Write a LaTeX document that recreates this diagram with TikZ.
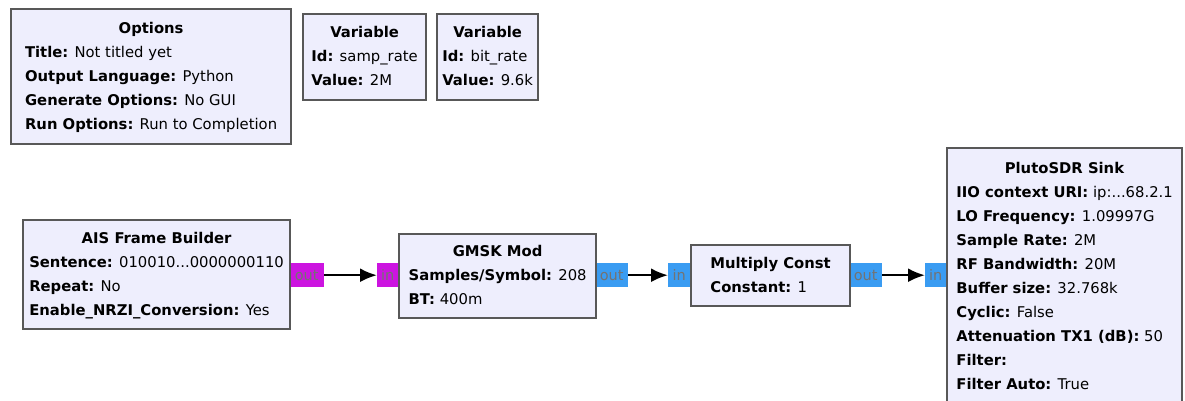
\documentclass[tikz,border=0pt]{standalone}
\usepackage{fontspec}
\setmainfont{DejaVu Sans}
\usetikzlibrary{arrows.meta}
\definecolor{blockfill}{HTML}{EEEEFD}
\definecolor{blockline}{HTML}{585858}
\definecolor{bytecol}{HTML}{CC14E0}
\definecolor{cpxcol}{HTML}{3A9CF2}

\begin{document}
\begin{tikzpicture}[x=1pt,y=-1pt,
  block/.style={draw=blockline,fill=blockfill,line width=2.2pt,anchor=north west,
    inner sep=0pt,font=\fontsize{14.8}{24}\selectfont},
  port/.style={anchor=north west,inner sep=0pt,minimum height=24pt,
    font=\fontsize{14.5}{14.5}\selectfont,text=black!55},
  bport/.style={port,fill=bytecol},
  cport/.style={port,fill=cpxcol},
  link/.style={line width=2.4pt,-{Latex[length=17pt,width=14pt]}}]
  \useasboundingbox (0,0) rectangle (1185,400);

  \node [block,minimum width=280pt,minimum height=135pt] (opt) at (10,8)
    {\begin{tabular}{@{}l@{}}
      \multicolumn{1}{@{}c@{}}{\textbf{Options}}\\
      \textbf{Title:} Not titled yet\\
      \textbf{Output Language:} Python\\
      \textbf{Generate Options:} No GUI\\
      \textbf{Run Options:} Run to Completion
    \end{tabular}};
  \node [block,minimum width=123pt,minimum height=86pt] (var1) at (302,13)
    {\begin{tabular}{@{}l@{}}
      \multicolumn{1}{@{}c@{}}{\textbf{Variable}}\\
      \textbf{Id:} samp\_rate\\
      \textbf{Value:} 2M
    \end{tabular}};
  \node [block,minimum width=101pt,minimum height=86pt] (var2) at (436,13)
    {\begin{tabular}{@{}l@{}}
      \multicolumn{1}{@{}c@{}}{\textbf{Variable}}\\
      \textbf{Id:} bit\_rate\\
      \textbf{Value:} 9.6k
    \end{tabular}};

  \node [bport,minimum width=35pt] (aisout) at (289,263) {out};
  \node [bport,minimum width=21pt] (gmskin) at (377,263) {in};
  \node [cport,minimum width=33pt] (gmskout) at (595,263) {out};
  \node [cport,minimum width=22pt] (multin) at (668,263) {in};
  \node [cport,minimum width=33pt] (multout) at (849,263) {out};
  \node [cport,minimum width=21pt] (plutoin) at (925,263) {in};

  \node [block,minimum width=267pt,minimum height=109pt] (ais) at (22,219)
    {\begin{tabular}{@{}l@{}}
      \multicolumn{1}{@{}c@{}}{\textbf{AIS Frame Builder}}\\
      \textbf{Sentence:} 010010...0000000110\\
      \textbf{Repeat:} No\\
      \textbf{Enable\_NRZI\_Conversion:} Yes
    \end{tabular}};
  \node [block,minimum width=197pt,minimum height=84pt] (gmsk) at (398,233)
    {\begin{tabular}{@{}l@{}}
      \multicolumn{1}{@{}c@{}}{\textbf{GMSK Mod}}\\
      \textbf{Samples/Symbol:} 208\\
      \textbf{BT:} 400m
    \end{tabular}};
  \node [block,minimum width=159pt,minimum height=61pt] (mult) at (690,244)
    {\begin{tabular}{@{}l@{}}
      \multicolumn{1}{@{}c@{}}{\textbf{Multiply Const}}\\
      \textbf{Constant:} 1
    \end{tabular}};
  \node [block,minimum width=235pt,minimum height=258pt] (pluto) at (946,147)
    {\begin{tabular}{@{}l@{}}
      \multicolumn{1}{@{}c@{}}{\textbf{PlutoSDR Sink}}\\
      \textbf{IIO context URI:} ip:...68.2.1\\
      \textbf{LO Frequency:} 1.09997G\\
      \textbf{Sample Rate:} 2M\\
      \textbf{RF Bandwidth:} 20M\\
      \textbf{Buffer size:} 32.768k\\
      \textbf{Cyclic:} False\\
      \textbf{Attenuation TX1 (dB):} 50\\
      \textbf{Filter:}\\
      \textbf{Filter Auto:} True
    \end{tabular}};

  \draw [link] (aisout.east) -- (gmskin.west);
  \draw [link] (gmskout.east) -- (multin.west);
  \draw [link] (multout.east) -- (plutoin.west);
\end{tikzpicture}
\end{document}
